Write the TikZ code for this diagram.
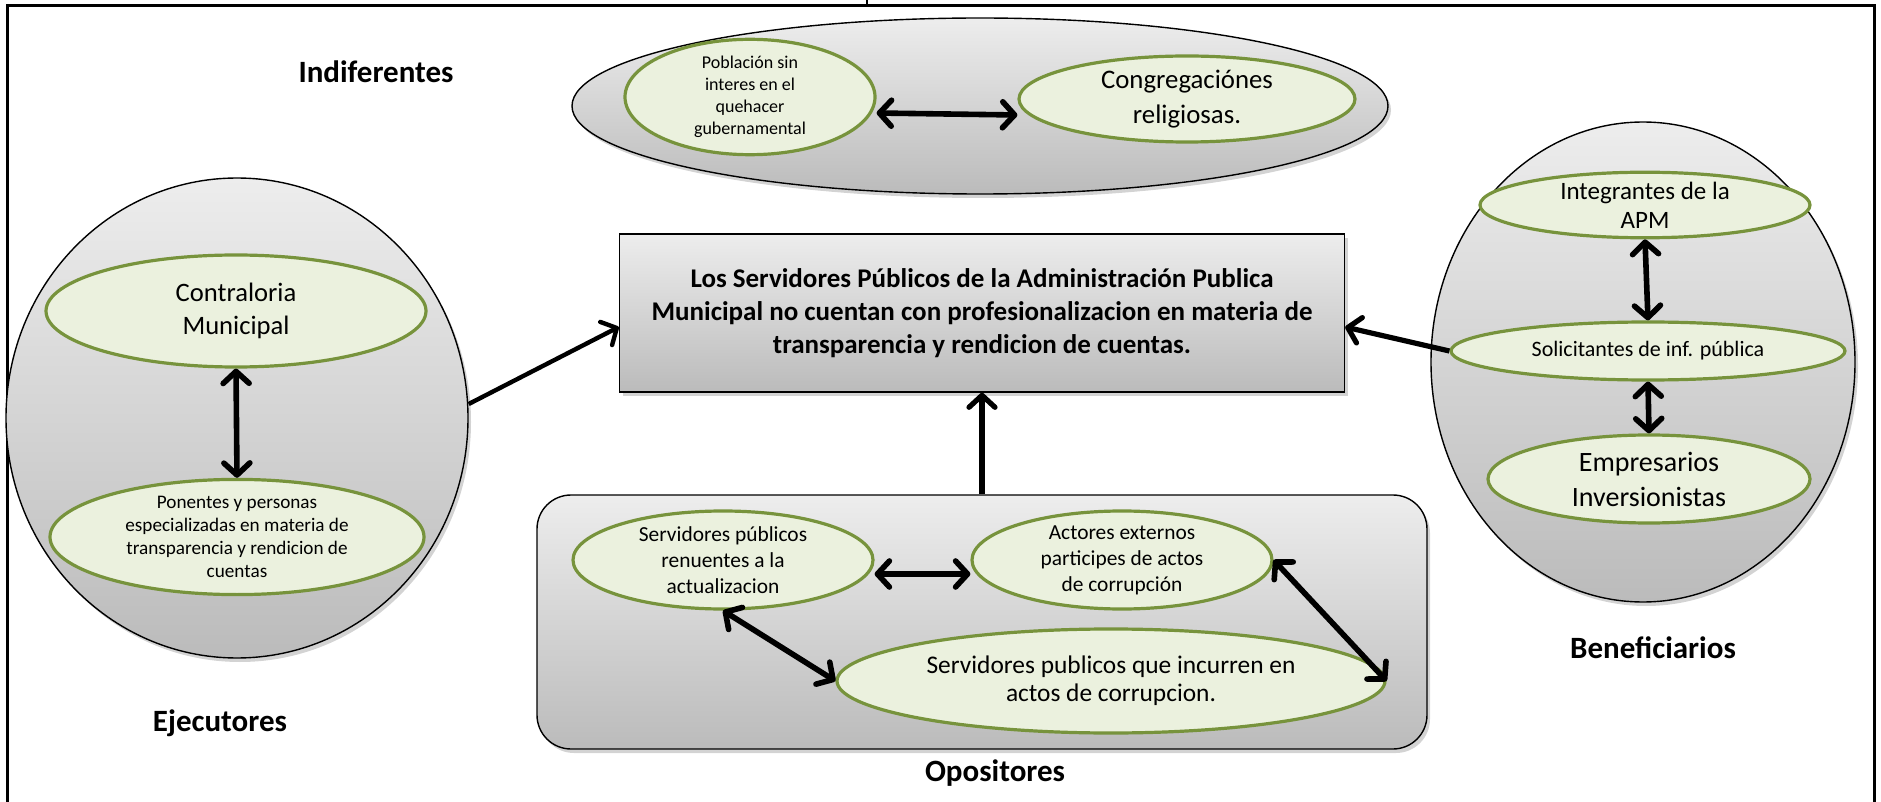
\documentclass[tikz,border=0pt]{standalone}
\usepackage{fontspec}
\setmainfont{Carlito}
\usetikzlibrary{shapes.geometric,arrows.meta,shadows}
\definecolor{gtop}{HTML}{EDEDED}
\definecolor{gbot}{HTML}{BBBBBB}
\definecolor{gfill}{HTML}{EBF1DE}
\definecolor{gline}{HTML}{77933C}
\begin{document}
\begin{tikzpicture}[x=0.5pt,y=-0.5pt,
  grayshape/.style={draw=black, line width=0.7pt, top color=gtop, bottom color=gbot,
    drop shadow={shadow xshift=1.5pt,shadow yshift=-2pt,opacity=0.35}},
  greenell/.style={ellipse, draw=gline, fill=gfill, line width=1.6pt, inner sep=0pt, align=center, text=black},
  dblarrow/.style={{Straight Barb[length=6pt,width=13pt,round]}-{Straight Barb[length=6pt,width=13pt,round]}, line width=2.8pt},
  onearrow/.style={-{Straight Barb[length=6pt,width=13pt,round]}, line width=2.6pt},
  grouplabel/.style={font=\fontsize{15.5}{18}\selectfont\bfseries},
  frame/.style={line width=1.5pt},
]
\useasboundingbox (0,0) rectangle (1881,802);
% frame
\draw[frame] (7,802) -- (7,6) -- (1874,6) -- (1874,802);
\draw[line width=0.8pt] (867,0) -- (867,6);

% Indiferentes
\node[grayshape, ellipse, minimum width=408pt, minimum height=88pt] (indif) at (980,106) {};
\node[greenell, minimum width=125pt, minimum height=50pt, font=\fontsize{9}{11}\selectfont] (pob) at (750,97) {Población sin\\interes en el\\quehacer\\gubernamental};
\node[greenell, minimum width=168pt, minimum height=43pt, font=\fontsize{13.4}{17.5}\selectfont] (cong) at (1187,99) {Congregaciónes\\religiosas.};
\node[grouplabel] (lindif) at (376,72) {Indiferentes};

% Ejecutores
\node[grayshape, ellipse, minimum width=231pt, minimum height=240pt] (ejec) at (237,418) {};
\node[greenell, minimum width=190pt, minimum height=56pt, font=\fontsize{13.3}{16.5}\selectfont] (contr) at (236,311) {Contraloria\\Municipal};
\node[greenell, minimum width=187pt, minimum height=55pt, font=\fontsize{9.6}{11.5}\selectfont] (pon) at (237,537) {Ponentes y personas\\especializadas en materia de\\transparencia y rendicion de\\cuentas};
\node[grouplabel] (lejec) at (220,723) {Ejecutores};

% central problem
\node[grayshape, rectangle, minimum width=362.5pt, minimum height=79pt, align=center, font=\fontsize{13.5}{16.5}\selectfont\bfseries] (prob) at (982,313) {Los Servidores Públicos de la Administración Publica\\Municipal no cuentan con profesionalizacion en materia de\\transparencia y rendicion de cuentas.};

% Beneficiarios
\node[grayshape, ellipse, minimum width=212pt, minimum height=240pt] (benef) at (1643,362) {};
\node[greenell, minimum width=165pt, minimum height=29pt, font=\fontsize{12.5}{14.5}\selectfont] (integ) at (1645,205) {Integrantes de la\\APM};
\node[greenell, minimum width=197pt, minimum height=29pt, font=\fontsize{11}{13}\selectfont] (solic) at (1648,351) {Solicitantes de inf. pública};
\node[greenell, minimum width=161pt, minimum height=44pt, font=\fontsize{14}{17.5}\selectfont] (empr) at (1649,479) {Empresarios\\Inversionistas};
\node[grouplabel] (lbenef) at (1653,648) {Beneficiarios};

% Opositores
\node[grayshape, rectangle, rounded corners=17pt, minimum width=445pt, minimum height=127pt] (opos) at (982,622) {};
\node[greenell, minimum width=150pt, minimum height=49pt, font=\fontsize{10.7}{13}\selectfont] (renu) at (723,560) {Servidores públicos\\renuentes a la\\actualizacion};
\node[greenell, minimum width=150pt, minimum height=49pt, font=\fontsize{10.7}{13}\selectfont] (actor) at (1122,560) {Actores externos\\participes de actos\\de corrupción};
\node[greenell, minimum width=274pt, minimum height=52pt, font=\fontsize{12.7}{14}\selectfont] (incur) at (1111,681) {Servidores publicos que incurren en\\actos de corrupcion.};
\node[grouplabel] (lopos) at (995,773) {Opositores};

% connectors
\draw[dblarrow] ([yshift=-8pt]pob.east) -- ([yshift=-8pt]cong.west);
\draw[dblarrow] (contr.south) -- (pon.north);
\draw[onearrow, line width=2.2pt] ([yshift=7pt]ejec.east) -- ([yshift=-7pt]prob.west);
\draw[dblarrow] (integ.south) -- (solic.north);
\draw[dblarrow] (solic.south) -- (empr.north);
\draw[onearrow] (solic.west) -- ([yshift=-7pt]prob.east);
\draw[onearrow] (opos.north) -- (prob.south);
\draw[dblarrow] ([yshift=-7pt]renu.east) -- ([yshift=-7pt]actor.west);
\draw[dblarrow] (renu.south) -- (incur.west);
\draw[dblarrow] (actor.east) -- (incur.east);
\end{tikzpicture}
\end{document}
